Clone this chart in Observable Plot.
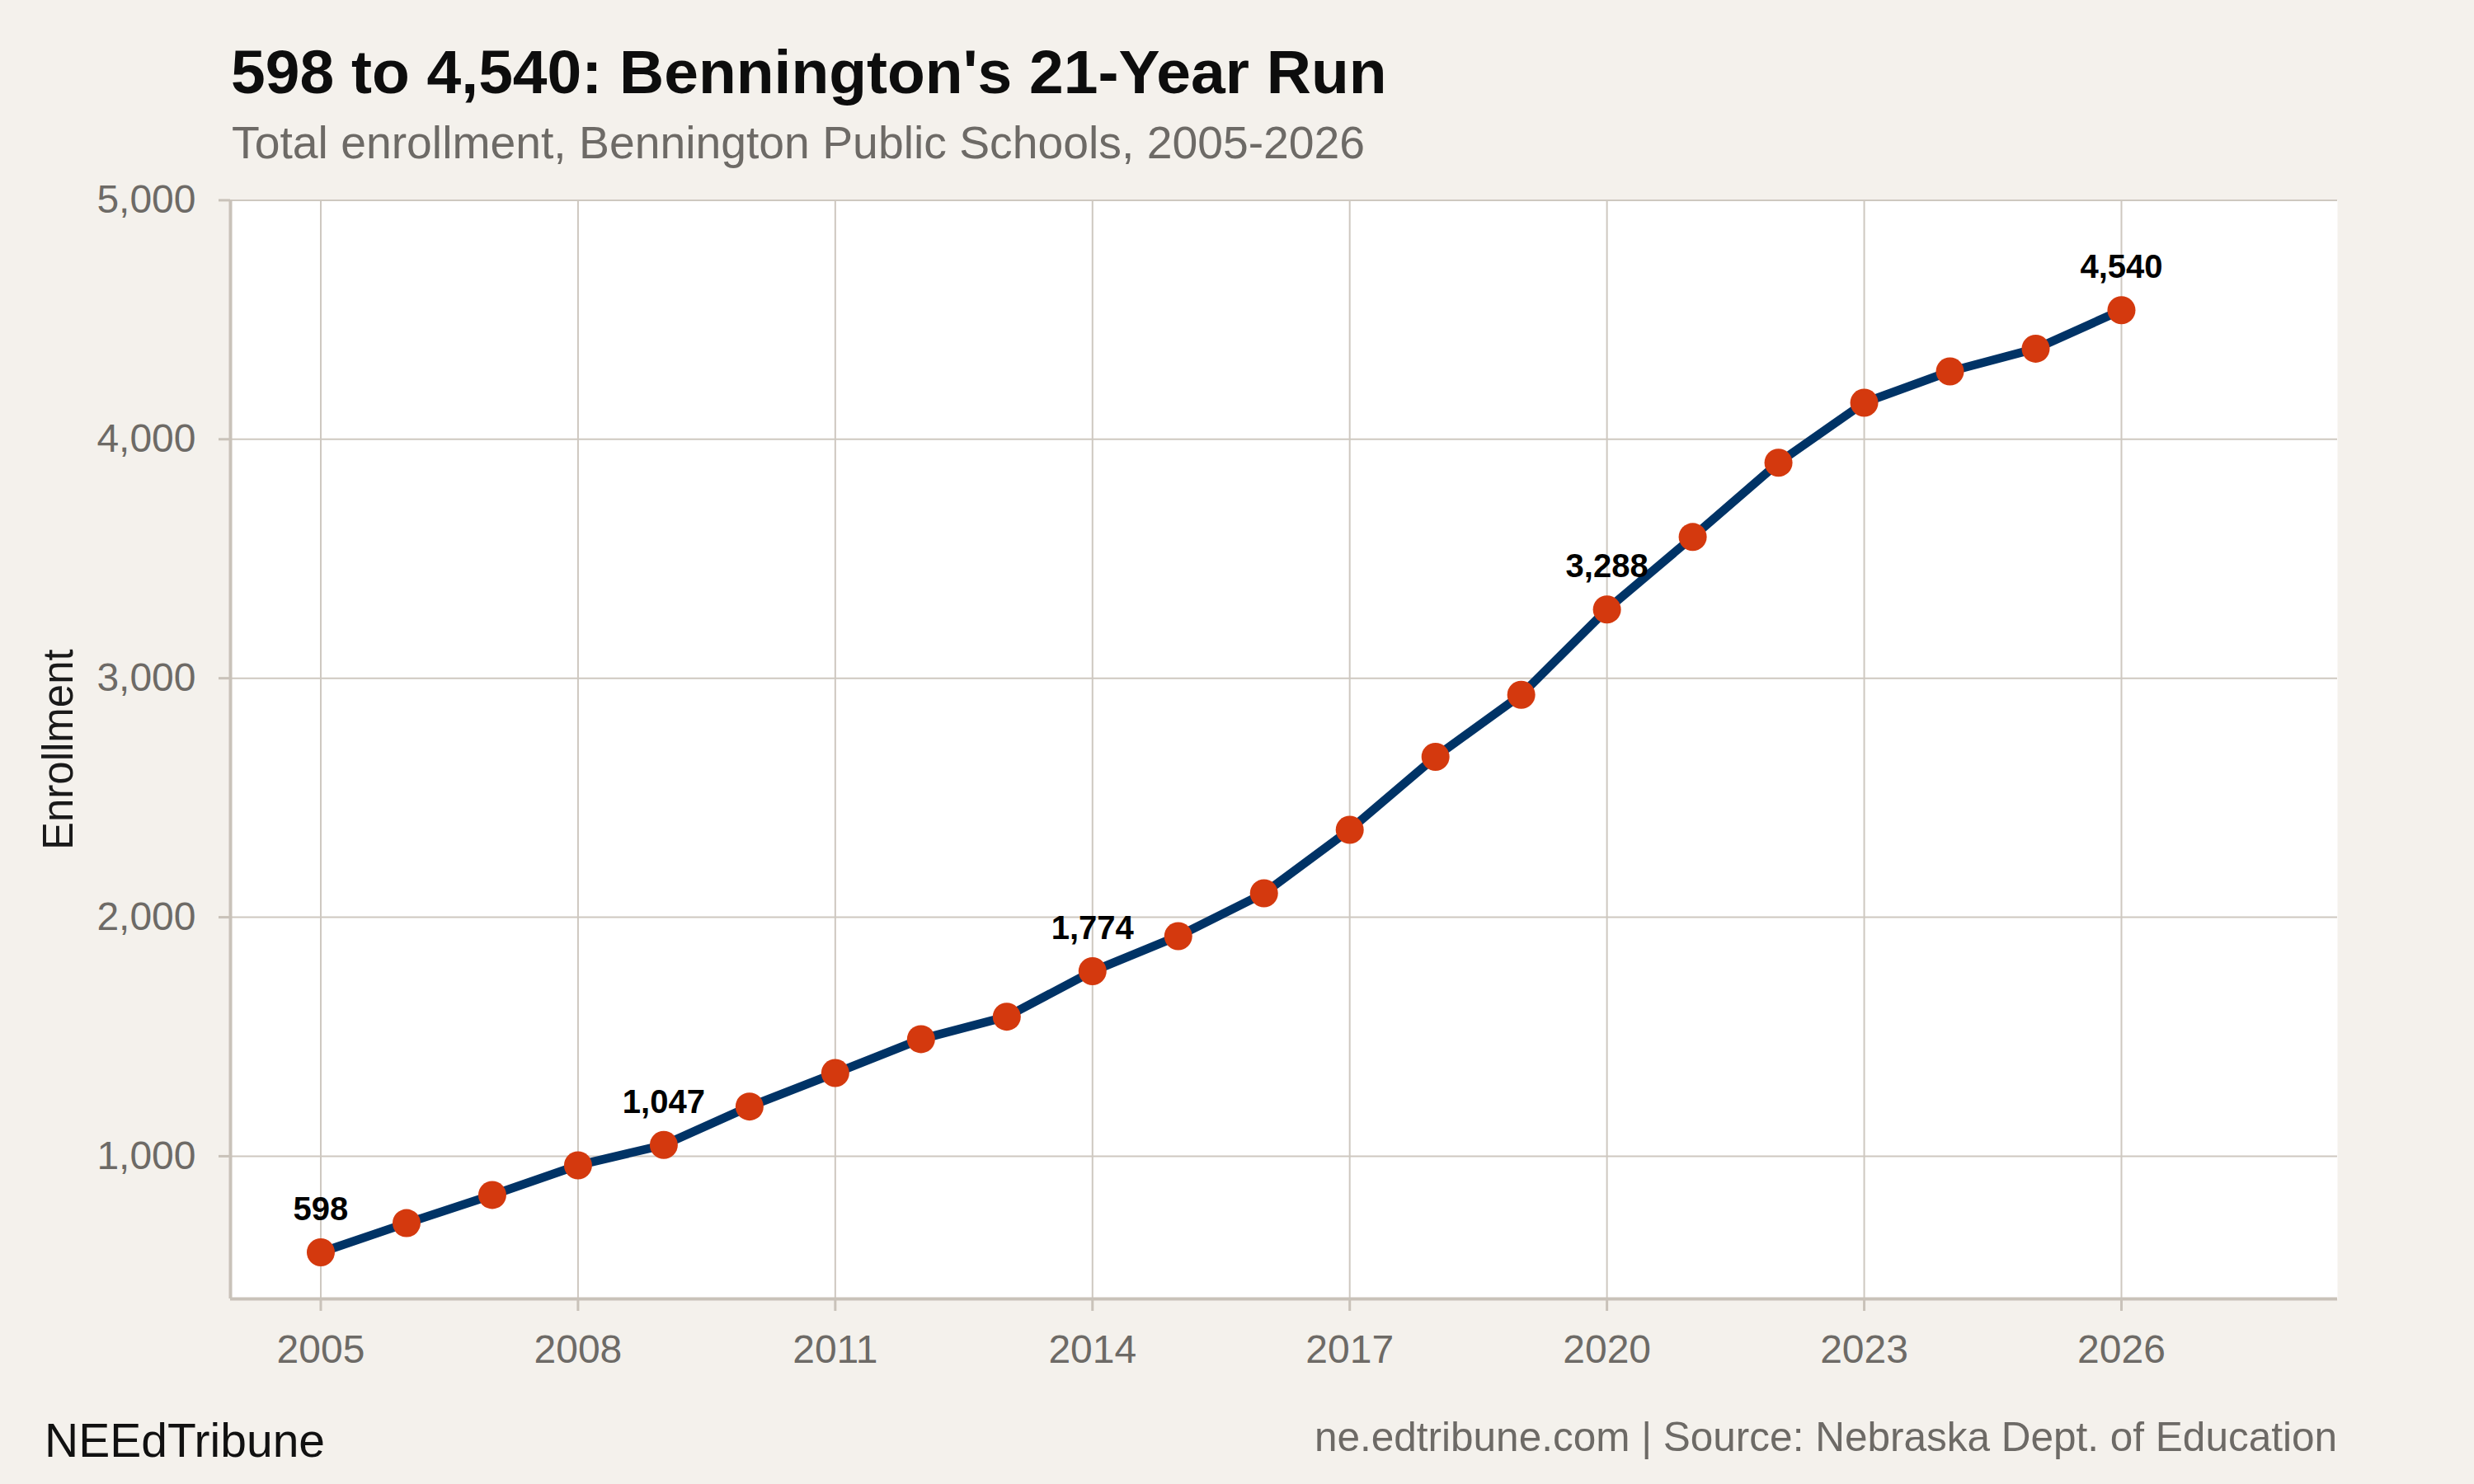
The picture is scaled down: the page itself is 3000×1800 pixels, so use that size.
<!DOCTYPE html>
<html>
<head>
<meta charset="utf-8">
<script src="https://cdn.jsdelivr.net/npm/d3@7"></script>
<script src="https://cdn.jsdelivr.net/npm/@observablehq/plot@0.6"></script>
<style>
  html, body { margin: 0; padding: 0; background: #f4f1ec; }
  body { width: 3000px; height: 1800px; overflow: hidden; font-family: "Liberation Sans", Arial, sans-serif; }
  #title { padding-left: 280px; padding-top: 43px; font-size: 75px; line-height: 88px; font-weight: bold; color: #0d0d0d; white-space: nowrap; }
  #subtitle { padding-left: 281px; margin-top: 10px; font-size: 55.3px; line-height: 64px; color: #6d6a66; white-space: nowrap; }
  #chart svg { display: block; }
  #footer { position: relative; height: 120px; }
  #brand { position: absolute; left: 54px; top: 38.75px; font-size: 57px; line-height: 57px; color: #111; white-space: nowrap; }
  #source { position: absolute; right: 166px; top: 37.85px; font-size: 49.5px; line-height: 50px; color: #6d6a66; white-space: nowrap; }
</style>
</head>
<body>
<div id="title">598 to 4,540: Bennington's 21-Year Run</div>
<div id="subtitle">Total enrollment, Bennington Public Schools, 2005-2026</div>
<div id="chart"></div>
<div id="footer">
  <div id="brand">NEEdTribune</div>
  <div id="source">ne.edtribune.com | Source: Nebraska Dept. of Education</div>
</div>
<script>
const years = [2005, 2006, 2007, 2008, 2009, 2010, 2011, 2012, 2013, 2014, 2015,
               2016, 2017, 2018, 2019, 2020, 2021, 2022, 2023, 2024, 2025, 2026];
const enrollment = [598, 720, 838, 962, 1047, 1208, 1348, 1490, 1584, 1774, 1921,
                    2100, 2366, 2671, 2931, 3288, 3591, 3902, 4153, 4284, 4379, 4540];
const labelYears = [2005, 2009, 2014, 2020, 2026];
const xTicks = [2005, 2008, 2011, 2014, 2017, 2020, 2023, 2026];
const yTicks = [1000, 2000, 3000, 4000, 5000];

const data = years.map((year, i) => ({year, value: enrollment[i]}));
const labeled = data.filter(d => labelYears.includes(d.year));
const comma = d3.format(",");

const xDomain = [2003.947, 2028.52];
const yDomain = [403, 5000];
const gridColor = "#cec8c0";
const axisColor = "#c9c2b9";
const tickText = "#6d6a66";

const chart = Plot.plot({
  width: 3000,
  height: 1475,
  marginLeft: 279,
  marginRight: 166,
  marginTop: 37.4,
  marginBottom: 105,
  style: {fontFamily: "Liberation Sans, Arial, sans-serif", background: "transparent", overflow: "visible"},
  x: {domain: xDomain},
  y: {domain: yDomain},
  marks: [
    Plot.frame({fill: "white", stroke: "none"}),
    Plot.gridX(xTicks, {stroke: gridColor, strokeOpacity: 1, strokeWidth: 2}),
    Plot.gridY(yTicks, {stroke: gridColor, strokeOpacity: 1, strokeWidth: 2}),
    Plot.ruleX([xDomain[0]], {stroke: axisColor, strokeWidth: 4}),
    Plot.ruleY([yDomain[0]], {stroke: axisColor, strokeWidth: 4}),
    Plot.axisX(xTicks, {tickFormat: d => String(d), tickSize: 15, tickPadding: 28, fontSize: 48,
      stroke: axisColor, strokeWidth: 3, fill: tickText, label: null}),
    Plot.axisY(yTicks, {tickFormat: d => comma(d), tickSize: 14, tickPadding: 28, fontSize: 48,
      stroke: axisColor, strokeWidth: 3, fill: tickText, label: null}),
    Plot.text(["Enrollment"], {frameAnchor: "left", textAnchor: "middle", dx: -208, rotate: -90, fontSize: 51,
      fill: "#1a1a1a", lineAnchor: "middle"}),
    Plot.line(data, {x: "year", y: "value", stroke: "#003366", strokeWidth: 10.5}),
    Plot.dot(data, {x: "year", y: "value", r: 17, fill: "#d4390e", stroke: "none"}),
    Plot.text(labeled, {x: "year", y: "value", text: d => comma(d.value),
      lineAnchor: "bottom", dy: -39, fontSize: 40, fontWeight: "bold", fill: "#000"})
  ]
});
document.getElementById("chart").appendChild(chart);
</script>
</body>
</html>
